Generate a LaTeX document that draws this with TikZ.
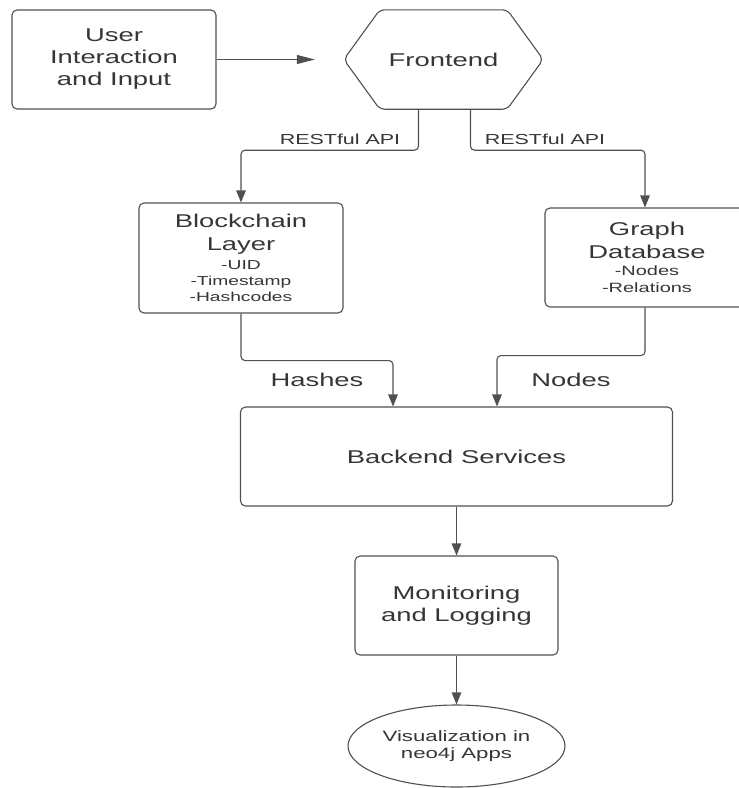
\documentclass[tikz,border=0pt]{standalone}
\usepackage{fontspec}
\setmainfont{Liberation Sans}[FakeStretch=1.48]
\usetikzlibrary{arrows.meta,shapes.geometric}
\definecolor{ink}{HTML}{363636}
\definecolor{edge}{HTML}{505050}
\newcommand{\bigtxt}{\fontsize{18.5}{22}\selectfont}
\newcommand{\smalltxt}{\fontsize{13}{15}\selectfont}
\newcommand{\apitxt}{\fontsize{14.5}{17}\selectfont}
\newcommand{\vistxt}{\fontsize{15}{17.5}\selectfont}
\begin{document}
\begin{tikzpicture}[x=1pt,y=-1pt,
  box/.style={draw=edge, line width=1.1pt, rounded corners=5pt, text=ink,
    align=center, inner sep=0pt, font=\bigtxt},
  plain/.style={text=ink, align=center, inner sep=0pt},
  link/.style={draw=edge, line width=1.1pt, rounded corners=4pt,
    -{Triangle[length=12pt,width=9.5pt]}},
  hlink/.style={draw=edge, line width=1.1pt,
    -{Triangle[length=18pt,width=9pt]}},
  lbl/.style={text=ink, inner sep=0pt}]
\clip (0,0) rectangle (739,788);
\fill[white] (0,0) rectangle (739,788);

% nodes
\node[box, minimum width=204pt, minimum height=99pt] (user) at (114,59.5)
  {User\\Interaction\\and Input};
\node[plain, font=\bigtxt, minimum width=199pt, minimum height=99pt] (front) at (443.5,59.5) {Frontend};
\draw[edge, line width=1.1pt, rounded corners=5pt]
  (front.west) -- ([xshift=36pt]front.north west) -- ([xshift=-36pt]front.north east)
  -- (front.east) -- ([xshift=-36pt]front.south east) -- ([xshift=36pt]front.south west) -- cycle;

\node[box, minimum width=204pt, minimum height=110pt] (block) at (241,258)
  {Blockchain\\[1pt]Layer\\[-3pt]\smalltxt -UID\\[-6pt]\smalltxt -Timestamp\\[-5.5pt]\smalltxt -Hashcodes};
\node[box, minimum width=204pt, minimum height=99pt] (graph) at (647,257.5)
  {Graph\\[0.5pt]Database\\[-5pt]\fontsize{13.5}{16}\selectfont -Nodes\\[-5pt]\fontsize{13.5}{16}\selectfont -Relations};

\node[box, minimum width=432pt, minimum height=99pt] (backend) at (456.5,456.5)
  {Backend Services};
\node[box, minimum width=203pt, minimum height=99pt] (mon) at (456.5,605.5)
  {Monitoring\\and Logging};
\node[draw=edge, line width=1.1pt, ellipse, minimum width=217pt, minimum height=82pt,
  inner sep=0pt, text=ink, align=center, font=\vistxt] (vis) at (456.5,746)
  {Visualization in\\neo4j Apps};

% connectors
\coordinate (fin) at ([xshift=-29pt]front.west);
\draw[hlink] (user.east) -- (fin);
\draw[link] ([xshift=-25pt]front.south) -- ++(0,41) -| (block.north);
\draw[link] ([xshift=27pt]front.south) -- ++(0,41) -| ([xshift=-2pt]graph.north);
\draw[link] (block.south) -- ++(0,47) -| ([xshift=-63.5pt]backend.north);
\draw[link] ([xshift=-2pt]graph.south) -- ++(0,48) -| ([xshift=40.5pt]backend.north);
\draw[link] (backend.south) -- (mon.north);
\draw[link] (mon.south) -- (vis.north);

% labels
\node[lbl, font=\apitxt] (api1) at (340,139) {RESTful API};
\node[lbl, font=\apitxt] (api2) at (545,139) {RESTful API};
\node[lbl, font=\bigtxt] (hashes) at (317,380) {Hashes};
\node[lbl, font=\bigtxt] (nodes) at (571,380) {Nodes};
\end{tikzpicture}
\end{document}
